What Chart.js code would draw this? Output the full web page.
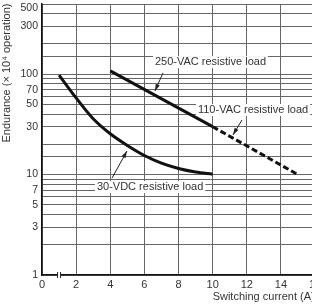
<!DOCTYPE html>
<html>
<head>
<meta charset="utf-8">
<script src="https://cdn.jsdelivr.net/npm/chart.js@4.4.1/dist/chart.umd.min.js"></script>
<style>
  html, body { margin: 0; padding: 0; overflow: hidden; background: #fff; }
  #wrap { width: 330px; height: 308px; position: relative; }
</style>
</head>
<body>
<div id="wrap"><canvas id="chart"></canvas></div>
<script>
// endurance vs switching current
const dcCurrent = [1, 2, 3, 4, 5, 6, 7, 8, 9, 10];
const dcLife    = [98, 58, 36, 25.5, 19.5, 15.5, 13, 11.5, 10.6, 10.1];
const ac250Current = [4, 10];
const ac250Life    = [108, 30];
const ac110Current = [10, 15];
const ac110Life    = [30, 10];
const yTickLabels = [1, 3, 5, 7, 10, 30, 50, 70, 100, 300, 500];

// callouts (data coords): text anchor, arrow tail, arrow tip
const callouts = [
  { text: '250-VAC resistive load', at: [6.62, 132], tail: [7.09, 103], tip: [6.62, 68] },
  { text: '110-VAC resistive load', at: [9.14, 44], tail: [11.72, 35], tip: [11.19, 24.8] },
  { text: '30-VDC resistive load', at: [3.22, 7.5], tail: [4.1, 9.2], tip: [4.98, 17.2] },
];

const FONT = '"Liberation Sans", Arial, sans-serif';
const TEXT = '#333';

const pts = (xs, ys) => xs.map((x, i) => ({ x, y: ys[i] }));

const extras = {
  id: 'extras',
  beforeDraw(chart) {
    // the top label sits just under the top rule, not centred on it
    const y = chart.scales.y;
    y.getLabelItems(chart.chartArea).forEach(it => {
      if (it.label === String(yTickLabels[yTickLabels.length - 1])) it.options.translation[1] += 4;
    });
  },
  afterDraw(chart) {
    const { ctx: c, scales: { x, y }, chartArea } = chart;
    c.save();

    // axis break on the x axis
    const bx = x.getPixelForValue(1), by = chartArea.bottom;
    c.fillStyle = '#fff';
    c.fillRect(bx - 1.5, by - 2, 3, 4);
    c.strokeStyle = '#222';
    c.lineWidth = 1;
    c.beginPath();
    c.moveTo(bx - 1.5, by - 3); c.lineTo(bx - 1.5, by + 3);
    c.moveTo(bx + 1.5, by - 3); c.lineTo(bx + 1.5, by + 3);
    c.stroke();

    // callouts
    c.font = '11px ' + FONT;
    c.textBaseline = 'middle';
    c.textAlign = 'left';
    callouts.forEach(n => {
      const tx = x.getPixelForValue(n.at[0]), ty = y.getPixelForValue(n.at[1]);
      const w = c.measureText(n.text).width;
      c.fillStyle = '#fff';
      c.fillRect(tx - 2, ty - 6, w + 4, 12);
      c.fillStyle = TEXT;
      c.fillText(n.text, tx, ty);

      const ax = x.getPixelForValue(n.tail[0]), ay = y.getPixelForValue(n.tail[1]);
      const px = x.getPixelForValue(n.tip[0]), py = y.getPixelForValue(n.tip[1]);
      const ang = Math.atan2(py - ay, px - ax);
      c.strokeStyle = '#222';
      c.lineWidth = 1;
      c.beginPath(); c.moveTo(ax, ay); c.lineTo(px, py); c.stroke();
      c.fillStyle = '#222';
      c.beginPath();
      c.moveTo(px, py);
      c.lineTo(px - 7 * Math.cos(ang) + 2.2 * Math.sin(ang), py - 7 * Math.sin(ang) - 2.2 * Math.cos(ang));
      c.lineTo(px - 7 * Math.cos(ang) - 2.2 * Math.sin(ang), py - 7 * Math.sin(ang) + 2.2 * Math.cos(ang));
      c.closePath(); c.fill();
    });

    // axis titles
    c.fillStyle = TEXT;
    c.font = '11px ' + FONT;
    c.textAlign = 'left';
    c.fillText('Switching current (A)', x.getPixelForValue(10), chartArea.bottom + 22);
    c.translate(7, 73);
    c.rotate(-Math.PI / 2);
    c.textAlign = 'center';
    c.fillText('Endurance (\u00d7 10\u2074 operation)', 0, 0);

    c.restore();
  }
};

new Chart(document.getElementById('chart'), {
  type: 'line',
  data: {
    datasets: [
      { label: '30-VDC', data: pts(dcCurrent, dcLife), tension: 0.4 },
      { label: '250-VAC', data: pts(ac250Current, ac250Life) },
      { label: '110-VAC', data: pts(ac110Current, ac110Life), borderDash: [6, 3] },
    ].map(d => Object.assign({
      borderColor: '#111',
      borderWidth: 3,
      pointRadius: 0,
      fill: false,
      cubicInterpolationMode: 'monotone',
    }, d))
  },
  options: {
    responsive: true,
    maintainAspectRatio: false,
    animation: false,
    layout: { padding: { left: 0, right: 15, top: 4, bottom: 0 } },
    plugins: { legend: { display: false }, tooltip: { enabled: false } },
    scales: {
      x: {
        type: 'linear',
        min: 0,
        max: 16,
        afterFit: s => { s.height = 33; s.paddingRight = 0; },
        ticks: { stepSize: 2, padding: 3, autoSkip: false, color: TEXT, font: { size: 11, family: FONT } },
        grid: { color: '#666', lineWidth: 1, drawTicks: false },
        border: { color: '#111', width: 1.5 },
      },
      y: {
        type: 'logarithmic',
        min: 1,
        max: 500,
        afterFit: s => { s.width = 42; s.paddingTop = 0; s.paddingBottom = 0; },
        ticks: {
          autoSkip: false,
          padding: 4,
          color: TEXT,
          font: { size: 10.5, family: FONT },
          callback: v => {
            const t = yTickLabels.find(k => Math.abs(k - v) / k < 1e-6);
            return t ? String(t) : '';
          }
        },
        grid: { color: '#666', lineWidth: 1, drawTicks: false },
        border: { color: '#111', width: 1.5 },
      }
    }
  },
  plugins: [extras]
});
</script>
</body>
</html>
